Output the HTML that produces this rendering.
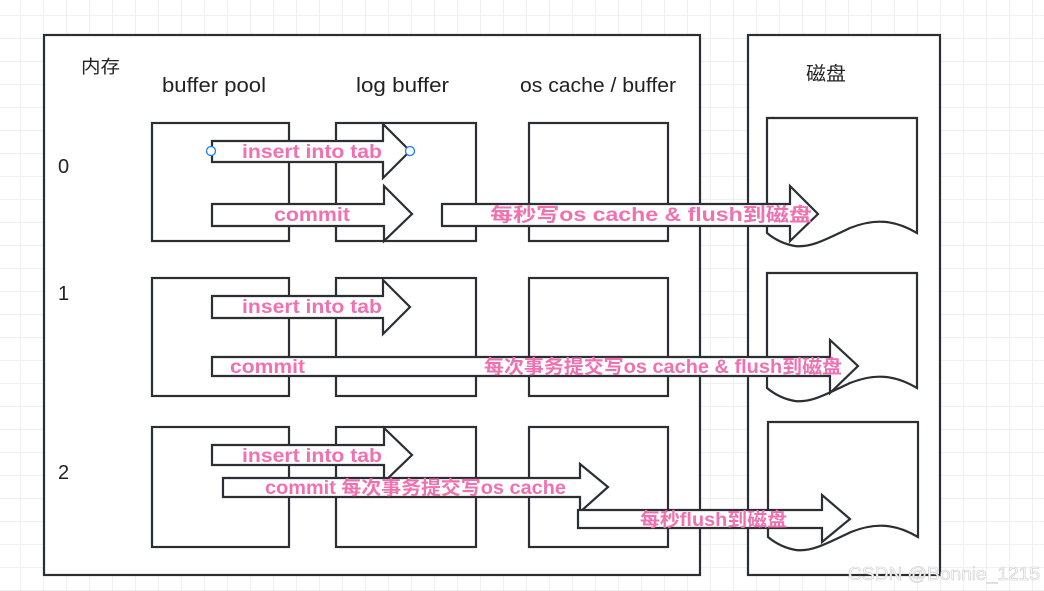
<!DOCTYPE html>
<html><head><meta charset="utf-8"><style>
html,body{margin:0;padding:0;background:#fff;}
svg{display:block;}
.t{font-family:"Liberation Sans","Noto Sans CJK SC",sans-serif;}
.p{fill:#f070b0;font-weight:bold;font-size:19px;font-family:"Liberation Sans","Noto Sans CJK SC",sans-serif;}
</style></head><body>
<svg width="1044" height="591" viewBox="0 0 1044 591" xmlns="http://www.w3.org/2000/svg">
<defs>
<pattern id="g" x="20" y="15" width="23" height="23" patternUnits="userSpaceOnUse">
<path d="M0 0V23M0 0H23" stroke="#ececec" stroke-width="1.5" fill="none"/>
</pattern>
</defs>
<rect width="1044" height="591" fill="#fff"/>
<rect width="1044" height="591" fill="url(#g)"/>
<g stroke="#2b2f33" stroke-width="2.2" fill="#fff">
<rect x="44" y="35" width="656" height="540"/>
<rect x="748" y="35" width="192" height="540"/>
<rect x="152" y="123" width="137" height="118"/>
<rect x="336" y="123" width="140" height="118"/>
<rect x="529" y="123" width="139" height="118"/>
<rect x="152" y="278" width="137" height="118"/>
<rect x="336" y="278" width="140" height="118"/>
<rect x="529" y="278" width="139" height="118"/>
<rect x="152" y="427" width="137" height="120"/>
<rect x="336" y="427" width="140" height="120"/>
<rect x="529" y="427" width="139" height="120"/>
<path d="M767,118H917V233C895,220 875,218 850,228C825,240 810,248 795,246C783,244 773,238 767,233Z"/>
<path d="M767,273H917V388C895,375 875,373 850,383C825,395 810,403 795,401C783,399 773,393 767,388Z"/>
<path d="M768,422H918V537C896,524 876,522 851,532C826,544 811,552 796,550C784,548 774,542 768,537Z"/>
</g>
<g stroke="#2b2f33" stroke-width="2.2" fill="#fff" stroke-linejoin="miter">
<polygon points="212,141 383,141 383,124 410,151 383,178 383,162 212,162"/>
<polygon points="212,204 384,204 384,186 412,214 384,241 384,226 212,226"/>
<polygon points="442,204 790,204 790,186 818,214 790,241 790,226 442,226"/>
<polygon points="212,296 383,296 383,280 410,307 383,334 383,318 212,318"/>
<polygon points="212,357 830,357 830,340 858,366 830,393 830,376 212,376"/>
<polygon points="212,445 384,445 384,428 412,455 384,482 384,465 212,465"/>
<polygon points="223,478 580,478 580,464 608,487 580,512 580,497 223,497"/>
<polygon points="578,510 822,510 822,495 850,519 822,542 822,528 578,528"/>
</g>
<circle cx="211" cy="151" r="4.5" fill="#fff" stroke="#1a7fe8" stroke-width="1.3"/>
<circle cx="410" cy="151" r="4.5" fill="#fff" stroke="#1a7fe8" stroke-width="1.3"/>
<g class="t" fill="#222" font-size="20">
<text x="81" y="73" font-size="18" textLength="39" lengthAdjust="spacingAndGlyphs">内存</text>
<text x="162" y="92" textLength="104" lengthAdjust="spacingAndGlyphs">buffer pool</text>
<text x="356" y="92" textLength="93" lengthAdjust="spacingAndGlyphs">log buffer</text>
<text x="520" y="92" textLength="156" lengthAdjust="spacingAndGlyphs">os cache / buffer</text>
<text x="806" y="80" font-size="19" textLength="40" lengthAdjust="spacingAndGlyphs">磁盘</text>
<text x="58" y="173">0</text>
<text x="58" y="300">1</text>
<text x="58" y="479">2</text>
</g>
<text class="p" x="242" y="158" textLength="140" lengthAdjust="spacingAndGlyphs">insert into tab</text>
<text class="p" x="274" y="221" textLength="76" lengthAdjust="spacingAndGlyphs">commit</text>
<text class="p" x="490" y="221" textLength="322" lengthAdjust="spacingAndGlyphs">每秒写os cache &amp; flush到磁盘</text>
<text class="p" x="242" y="313" textLength="140" lengthAdjust="spacingAndGlyphs">insert into tab</text>
<text class="p" x="230" y="373" textLength="75" lengthAdjust="spacingAndGlyphs">commit</text>
<text class="p" x="484" y="373" textLength="358" lengthAdjust="spacingAndGlyphs">每次事务提交写os cache &amp; flush到磁盘</text>
<text class="p" x="242" y="462" textLength="140" lengthAdjust="spacingAndGlyphs">insert into tab</text>
<text class="p" x="265" y="494" textLength="301" lengthAdjust="spacingAndGlyphs">commit 每次事务提交写os cache</text>
<text class="p" x="640" y="526" textLength="147" lengthAdjust="spacingAndGlyphs">每秒flush到磁盘</text>
<text x="848" y="580" font-family="Liberation Sans,sans-serif" font-size="18" fill="#ffffff" stroke="#ccc" stroke-width="0.6" textLength="192" lengthAdjust="spacingAndGlyphs">CSDN @Bonnie_1215</text>
</svg>
</body></html>
